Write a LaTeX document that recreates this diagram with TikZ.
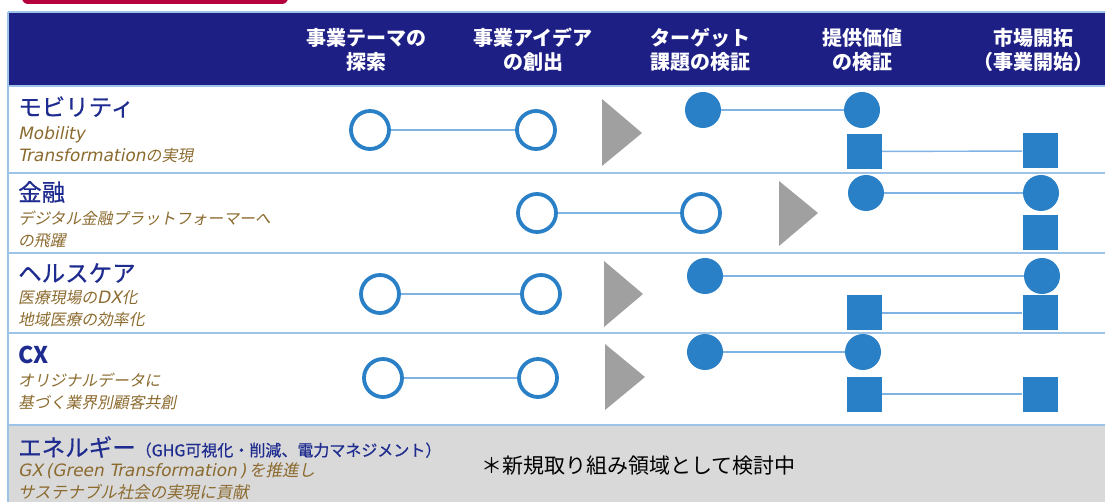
\documentclass[tikz,border=0pt]{standalone}
\usepackage{fontspec}
\setmainfont{Noto Sans CJK JP}
\newfontfamily\jpit[FakeSlant=0.2]{Noto Sans CJK JP}
\newfontfamily\latit[FakeSlant=0.2]{DejaVu Sans}
\newfontfamily\jpttl[FakeBold=0.6]{Noto Sans CJK JP}
\newcommand{\Lt}[1]{{\fontsize{17}{22}\latit #1}}
\definecolor{navy}{RGB}{29,31,133}
\definecolor{tnavy}{RGB}{31,44,143}
\definecolor{brown}{RGB}{139,106,46}
\definecolor{mblue}{RGB}{42,128,198}
\definecolor{lblue}{RGB}{127,179,227}
\definecolor{sepblue}{RGB}{157,195,230}
\definecolor{trigray}{RGB}{160,160,160}
\definecolor{bggray}{RGB}{217,217,217}
\definecolor{crimson}{RGB}{180,0,60}
\tikzset{
  hdr/.style={text=white, font=\fontsize{20}{24}\selectfont\bfseries, align=center, inner sep=0},
  ttl/.style={text=tnavy, font=\fontsize{23.5}{27}\jpttl, anchor=west, inner sep=0},
  sub/.style={text=brown, font=\fontsize{15.8}{22}\jpit, anchor=west, inner sep=0, align=left},
  openc/.style={circle, draw=mblue, line width=3.8pt, fill=white, minimum size=38pt, inner sep=0},
  fillc/.style={circle, fill=mblue, minimum size=36pt, inner sep=0},
  sqm/.style={rectangle, fill=mblue, minimum width=35pt, minimum height=35pt, inner sep=0},
  conn/.style={draw=lblue, line width=1.4pt},
  tri/.style={fill=trigray},
  sep/.style={draw=sepblue, line width=1.8pt}
}
\begin{document}
\begin{tikzpicture}[x=1pt,y=-1pt]
\useasboundingbox (0,0) rectangle (1105,502);
\clip (0,0) rectangle (1105,502);
% top crimson tab
\fill[crimson, rounded corners=6pt] (22,-20) rectangle (288,4);
% header
\fill[navy] (8,12) rectangle (1105,86);
\draw[sep] (8,12) -- (1105,12);
% gray last row
\fill[bggray] (8,425) rectangle (1105,502);
% separators
\draw[sep] (8,86) -- (1105,86);
\draw[sep] (8,173) -- (1105,173);
\draw[sep] (8,253) -- (1105,253);
\draw[sep] (8,333) -- (1105,333);
\draw[sep] (8,425) -- (1105,425);
\draw[sep] (8,12) -- (8,502);
% header texts
\node[hdr] (h1) at (366,50) {事業テーマの\\探索};
\node[hdr] (h2) at (533,50) {事業アイデア\\の創出};
\node[hdr] (h3) at (700,50) {ターゲット\\課題の検証};
\node[hdr] (h4) at (862,50) {提供価値\\の検証};
\node[hdr] (h5) at (1033,50) {市場開拓\\（事業開始）};
% row titles
\node[ttl] (t1) at (18,107) {モビリティ};
\node[sub] (s1) at (18,145) {\Lt{Mobility}\\\Lt{Transformation}の実現};
\node[ttl] (t2) at (18,192) {金融};
\node[sub] (s2) at (18,229) {デジタル金融プラットフォーマーへ\\の飛躍};
\node[ttl] (t3) at (18,273) {ヘルスケア};
\node[sub] (s3) at (18,309) {医療現場の\Lt{DX}化\\地域医療の効率化};
\node[ttl, font=\fontsize{23}{27}\selectfont\bfseries] (t4) at (18,355) {CX};
\node[sub] (s4) at (18,391) {オリジナルデータに\\基づく業界別顧客共創};
\node[ttl] (t5) at (18,447) {エネルギー{\fontsize{16}{18}\selectfont（GHG可視化・削減、電力マネジメント）}};
\node[sub, font=\fontsize{16.5}{22}\jpit] (s5) at (18,481) {\Lt{GX\,(Green Transformation\,)\,}を推進し\\サステナブル社会の実現に貢献};
\node[anchor=west, inner sep=0, font=\fontsize{21}{25}\selectfont] (note) at (481,466) {＊新規取り組み領域として検討中};
% row 1
\node[openc] (a1) at (370,130) {};
\node[openc] (a2) at (536,130) {};
\draw[conn] (a1) -- (a2);
\fill[tri] (602,99) -- (642,133) -- (602,166) -- cycle;
\node[fillc] (a3) at (703,110) {};
\node[fillc] (a4) at (862,110) {};
\draw[conn] (a3) -- (a4);
\node[sqm] (a5) at (864.5,151.5) {};
\node[sqm] (a6) at (1040,151) {};
\draw[conn] (a5) -- (a6);
% row 2
\node[openc] (b1) at (537,213) {};
\node[openc] (b2) at (701,213) {};
\draw[conn] (b1) -- (b2);
\fill[tri] (779,181) -- (818,213) -- (779,246) -- cycle;
\node[fillc] (b3) at (866,193) {};
\node[fillc] (b4) at (1041,193) {};
\draw[conn] (b3) -- (b4);
\node[sqm] (b5) at (1040,233) {};
% row 3
\node[openc] (c1) at (380,294) {};
\node[openc] (c2) at (541,294) {};
\draw[conn] (c1) -- (c2);
\fill[tri] (604,261) -- (643,294) -- (604,327) -- cycle;
\node[fillc] (c3) at (705,276) {};
\node[fillc] (c4) at (1042,276) {};
\draw[conn] (c3) -- (c4);
\node[sqm] (c5) at (864,313) {};
\node[sqm] (c6) at (1040,313) {};
\draw[conn] (c5) -- (c6);
% row 4
\node[openc] (d1) at (383,378) {};
\node[openc] (d2) at (538,378) {};
\draw[conn] (d1) -- (d2);
\fill[tri] (605,344) -- (645,377) -- (605,410) -- cycle;
\node[fillc] (d3) at (705,352) {};
\node[fillc] (d4) at (863,352) {};
\draw[conn] (d3) -- (d4);
\node[sqm] (d5) at (864,394) {};
\node[sqm] (d6) at (1040,394) {};
\draw[conn] (d5) -- (d6);
\end{tikzpicture}
\end{document}
